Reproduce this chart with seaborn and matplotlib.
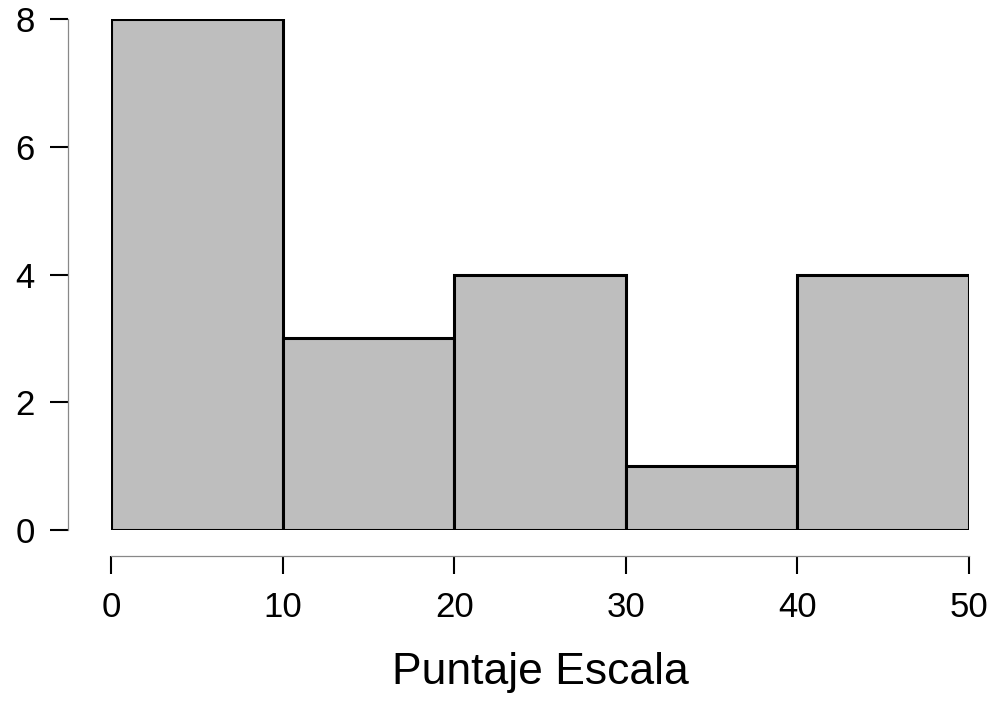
import matplotlib
matplotlib.use("Agg")
import matplotlib.pyplot as plt
import seaborn as sns

# histogram data
bin_edges = [0, 10, 20, 30, 40, 50]
bin_mids = [5, 15, 25, 35, 45]
counts = [8, 3, 4, 1, 4]
x_ticks = [0, 10, 20, 30, 40, 50]
y_ticks = [0, 2, 4, 6, 8]

sns.set_style("ticks")
plt.rcParams['font.family'] = ['Liberation Sans', 'DejaVu Sans']
plt.rcParams['text.color'] = 'black'
plt.rcParams['axes.labelcolor'] = 'black'
plt.rcParams['xtick.color'] = 'black'
plt.rcParams['ytick.color'] = 'black'

fig = plt.figure(figsize=(9.91, 7.02), dpi=100)
ax = fig.add_axes([111/991, (702-530)/702, (969-111)/991, (530-19)/702])

sns.histplot(x=bin_mids, weights=counts, bins=bin_edges, ax=ax,
             color="#BEBEBE", alpha=1, edgecolor="black", linewidth=2.2)

ax.set_xlim(0, 50)
ax.set_ylim(0, 8)
ax.set_xticks(x_ticks)
ax.set_yticks(y_ticks)
ax.set_xlabel("Puntaje Escala", fontsize=32, labelpad=20)
ax.set_ylabel("")

for side in ["top", "right"]:
    ax.spines[side].set_visible(False)
ax.spines["left"].set_position(("outward", 31))
ax.spines["bottom"].set_position(("outward", 18.7))
ax.spines["left"].set_bounds(0, 8)
ax.spines["bottom"].set_bounds(0, 50)
for side in ["left", "bottom"]:
    ax.spines[side].set_linewidth(0.9)
    ax.spines[side].set_color("#888888")
ax.tick_params(axis="both", labelsize=25, length=13, width=1.5, pad=11)
ax.tick_params(axis="x", pad=12.5)

plt.savefig("out.png", dpi=100)
